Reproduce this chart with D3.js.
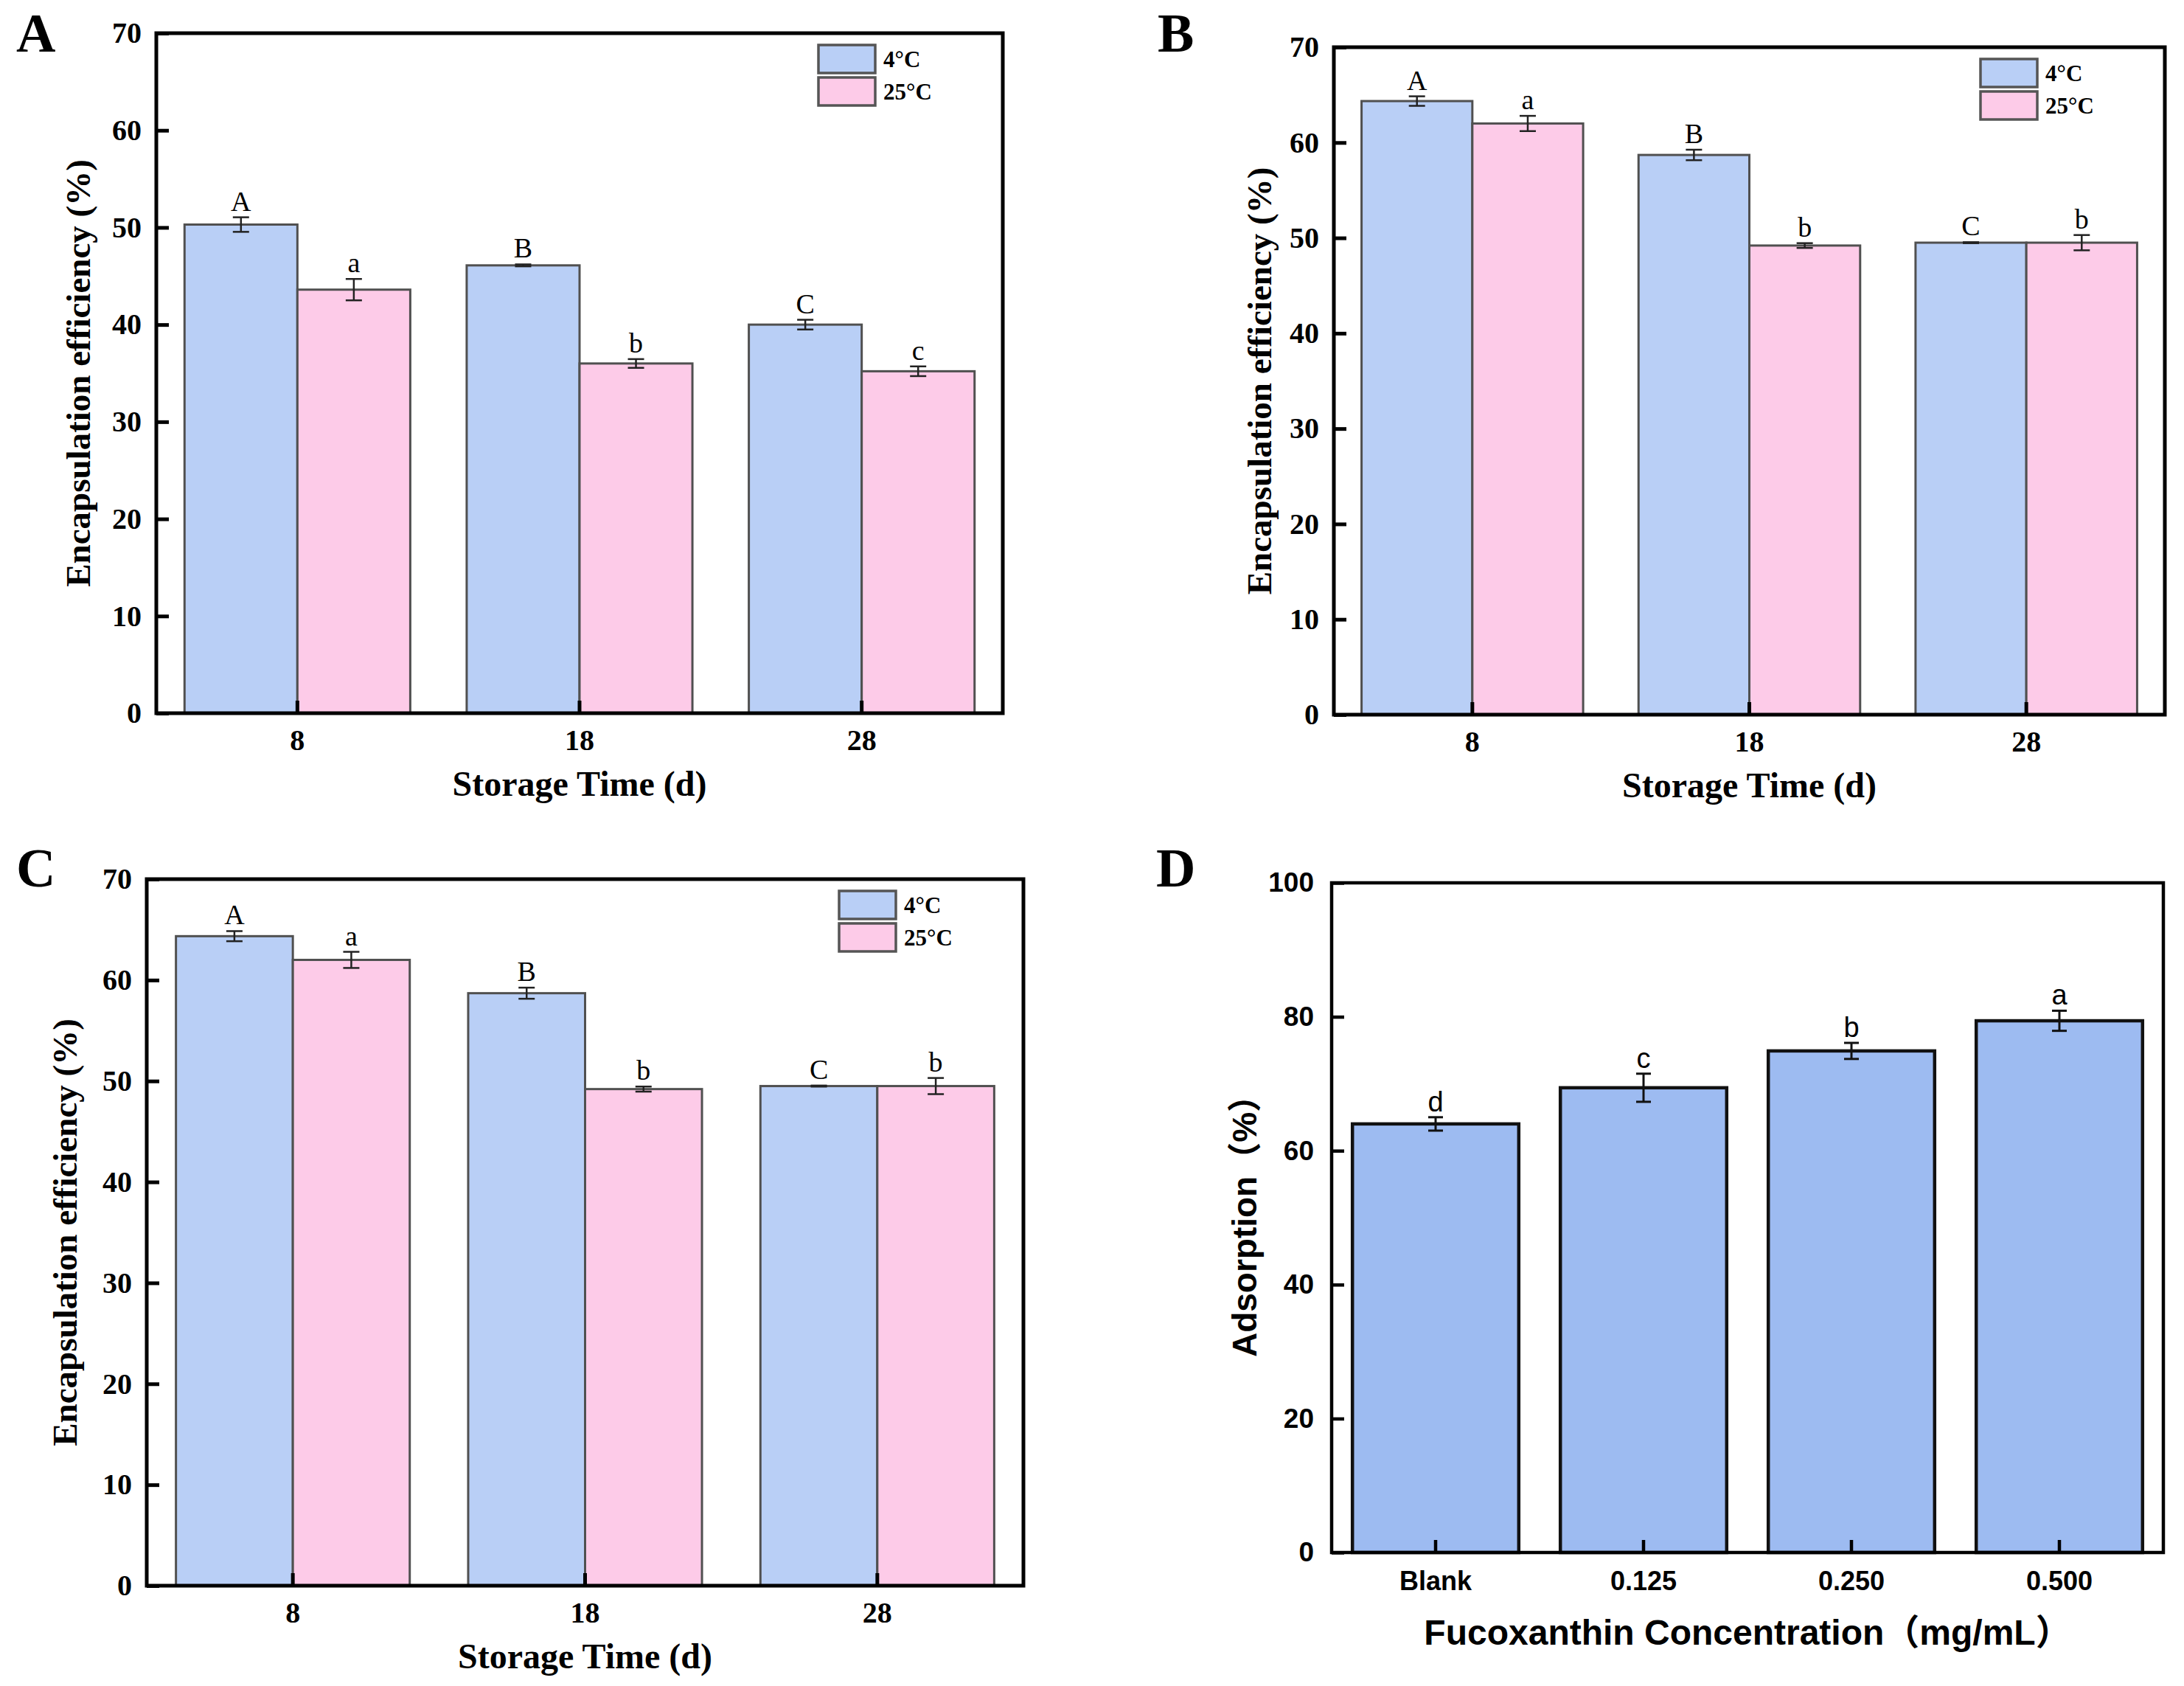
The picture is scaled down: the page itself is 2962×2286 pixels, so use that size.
<!DOCTYPE html>
<html>
<head>
<meta charset="utf-8">
<script src="https://cdn.jsdelivr.net/npm/d3@7"></script>
<style>
  body { margin: 0; background: #fff; }
  svg { display: block; }
</style>
</head>
<body>
<svg width="2962" height="2286"></svg>
<script>
// ---- data ----
const storageDays = ["8", "18", "28"];
const seriesNames = ["4°C", "25°C"];

const effA_4C = [50.3, 46.1, 40.0];
const effA_25C = [43.6, 36.0, 35.2];
const errA_4C = [0.75, 0.1, 0.5];
const errA_25C = [1.1, 0.45, 0.5];
const sigA_4C = ["A", "B", "C"];
const sigA_25C = ["a", "b", "c"];

const effB_4C = [64.35, 58.7, 49.5];
const effB_25C = [62.0, 49.2, 49.5];
const errB_4C = [0.5, 0.55, 0.05];
const errB_25C = [0.8, 0.25, 0.8];
const sigB_4C = ["A", "B", "C"];
const sigB_25C = ["a", "b", "b"];

const effC_4C = [64.35, 58.7, 49.5];
const effC_25C = [62.0, 49.2, 49.5];
const errC_4C = [0.5, 0.55, 0.05];
const errC_25C = [0.8, 0.25, 0.8];
const sigC_4C = ["A", "B", "C"];
const sigC_25C = ["a", "b", "b"];

const concLabels = ["Blank", "0.125", "0.250", "0.500"];
const adsorption = [64.0, 69.4, 74.9, 79.4];
const adsorptionErr = [1.0, 2.1, 1.2, 1.5];
const adsorptionSig = ["d", "c", "b", "a"];

const yTicksEff = [0, 10, 20, 30, 40, 50, 60, 70];
const yTicksAds = [0, 20, 40, 60, 80, 100];

const blueFill = "#b9cff6";
const pinkFill = "#fdcbe8";
const blueD = "#9dbbf1";

const serif = "'Liberation Serif', 'Times New Roman', serif";
const sans = "'Liberation Sans', Arial, 'Noto Sans CJK SC', sans-serif";

const svg = d3.select("svg");

function panelLetter(txt, x, y) {
  svg.append("text")
    .attr("x", x).attr("y", y)
    .attr("font-family", serif)
    .attr("font-weight", "bold")
    .attr("font-size", 74)
    .text(txt);
}

// grouped bar panel (A, B, C)
function groupedPanel(p) {
  const g = svg.append("g");
  const x = d3.scaleBand().domain(storageDays)
    .range([p.left, p.right]).paddingInner(0.2).paddingOuter(0.1);
  const xs = d3.scaleBand().domain(seriesNames).range([0, x.bandwidth()]);
  const y = d3.scaleLinear().domain([0, 70]).range([p.bottom, p.top]);

  const rows = [];
  storageDays.forEach((d, i) => {
    rows.push({ cat: d, s: seriesNames[0], v: p.v1[i], e: p.e1[i], sig: p.s1[i], fill: blueFill });
    rows.push({ cat: d, s: seriesNames[1], v: p.v2[i], e: p.e2[i], sig: p.s2[i], fill: pinkFill });
  });

  g.selectAll("rect.bar").data(rows).enter().append("rect")
    .attr("class", "bar")
    .attr("x", d => x(d.cat) + xs(d.s))
    .attr("y", d => y(d.v))
    .attr("width", xs.bandwidth())
    .attr("height", d => y(0) - y(d.v))
    .attr("fill", d => d.fill)
    .attr("stroke", "#505050")
    .attr("stroke-width", 3);

  // error bars
  const cx = d => x(d.cat) + xs(d.s) + xs.bandwidth() / 2;
  const eb = g.selectAll("g.err").data(rows).enter().append("g")
    .attr("stroke", "#222").attr("stroke-width", 2.5);
  eb.append("line").attr("x1", cx).attr("x2", cx)
    .attr("y1", d => y(d.v + d.e)).attr("y2", d => y(d.v - d.e));
  eb.append("line").attr("x1", d => cx(d) - 11).attr("x2", d => cx(d) + 11)
    .attr("y1", d => y(d.v + d.e)).attr("y2", d => y(d.v + d.e));
  eb.append("line").attr("x1", d => cx(d) - 11).attr("x2", d => cx(d) + 11)
    .attr("y1", d => y(d.v - d.e)).attr("y2", d => y(d.v - d.e));

  g.selectAll("text.sig").data(rows).enter().append("text")
    .attr("class", "sig")
    .attr("x", cx)
    .attr("y", d => y(d.v + d.e) - 9)
    .attr("text-anchor", "middle")
    .attr("font-family", serif)
    .attr("font-size", 38)
    .text(d => d.sig);

  // axes
  const yAxis = g.append("g")
    .attr("transform", `translate(${p.left},0)`)
    .call(d3.axisLeft(y).tickValues(yTicksEff).tickSizeInner(-17).tickSizeOuter(0).tickPadding(20));
  yAxis.select(".domain").remove();
  yAxis.selectAll("line").attr("stroke", "#000").attr("stroke-width", 5);
  yAxis.selectAll("text").attr("font-family", serif).attr("font-weight", "bold")
    .attr("font-size", 40).attr("fill", "#000");

  const xAxis = g.append("g")
    .attr("transform", `translate(0,${p.bottom})`)
    .call(d3.axisBottom(x).tickSizeInner(-17).tickSizeOuter(0).tickPadding(22));
  xAxis.select(".domain").remove();
  xAxis.selectAll("line").attr("stroke", "#000").attr("stroke-width", 5);
  xAxis.selectAll("text").attr("font-family", serif).attr("font-weight", "bold")
    .attr("font-size", 40).attr("fill", "#000");

  g.append("rect")
    .attr("x", p.left).attr("y", p.top)
    .attr("width", p.right - p.left).attr("height", p.bottom - p.top)
    .attr("fill", "none").attr("stroke", "#000").attr("stroke-width", 5);

  // legend
  const lx = p.right - 250, ly = p.top + 16;
  const leg = g.selectAll("g.leg").data([blueFill, pinkFill]).enter().append("g")
    .attr("transform", (d, i) => `translate(${lx},${ly + i * 44})`);
  leg.append("rect").attr("width", 77).attr("height", 38)
    .attr("fill", d => d).attr("stroke", "#555").attr("stroke-width", 3.5);
  leg.append("text").attr("x", 88).attr("y", 30)
    .attr("font-family", serif).attr("font-weight", "bold").attr("font-size", 31)
    .text((d, i) => seriesNames[i]);

  // titles
  g.append("text")
    .attr("transform", `translate(${p.yTitleX},${(p.top + p.bottom) / 2}) rotate(-90)`)
    .attr("text-anchor", "middle").attr("dominant-baseline", "central")
    .attr("font-family", serif).attr("font-weight", "bold").attr("font-size", 47)
    .text("Encapsulation efficiency (%)");
  g.append("text")
    .attr("x", (p.left + p.right) / 2).attr("y", p.bottom + 112)
    .attr("text-anchor", "middle")
    .attr("font-family", serif).attr("font-weight", "bold").attr("font-size", 48)
    .text("Storage Time (d)");
}

groupedPanel({ left: 212, right: 1360, top: 45, bottom: 967, yTitleX: 106,
  v1: effA_4C, v2: effA_25C, e1: errA_4C, e2: errA_25C, s1: sigA_4C, s2: sigA_25C });
groupedPanel({ left: 1809, right: 2936, top: 64, bottom: 969, yTitleX: 1708,
  v1: effB_4C, v2: effB_25C, e1: errB_4C, e2: errB_25C, s1: sigB_4C, s2: sigB_25C });
groupedPanel({ left: 199, right: 1388, top: 1192, bottom: 2150, yTitleX: 88,
  v1: effC_4C, v2: effC_25C, e1: errC_4C, e2: errC_25C, s1: sigC_4C, s2: sigC_25C });

// panel D
(function () {
  const p = { left: 1806, right: 2934, top: 1197, bottom: 2105 };
  const g = svg.append("g");
  const x = d3.scaleBand().domain(concLabels)
    .range([p.left, p.right]).paddingInner(0.2).paddingOuter(0.1);
  const y = d3.scaleLinear().domain([0, 100]).range([p.bottom, p.top]);
  const rows = concLabels.map((c, i) => ({ cat: c, v: adsorption[i], e: adsorptionErr[i], sig: adsorptionSig[i] }));

  g.selectAll("rect.bar").data(rows).enter().append("rect")
    .attr("x", d => x(d.cat)).attr("y", d => y(d.v))
    .attr("width", x.bandwidth()).attr("height", d => y(0) - y(d.v))
    .attr("fill", blueD).attr("stroke", "#111").attr("stroke-width", 4.5);

  const cx = d => x(d.cat) + x.bandwidth() / 2;
  const eb = g.selectAll("g.err").data(rows).enter().append("g")
    .attr("stroke", "#111").attr("stroke-width", 3);
  eb.append("line").attr("x1", cx).attr("x2", cx)
    .attr("y1", d => y(d.v + d.e)).attr("y2", d => y(d.v - d.e));
  eb.append("line").attr("x1", d => cx(d) - 10).attr("x2", d => cx(d) + 10)
    .attr("y1", d => y(d.v + d.e)).attr("y2", d => y(d.v + d.e));
  eb.append("line").attr("x1", d => cx(d) - 10).attr("x2", d => cx(d) + 10)
    .attr("y1", d => y(d.v - d.e)).attr("y2", d => y(d.v - d.e));

  g.selectAll("text.sig").data(rows).enter().append("text")
    .attr("x", cx).attr("y", d => y(d.v + d.e) - 8)
    .attr("text-anchor", "middle")
    .attr("font-family", sans).attr("font-size", 38)
    .text(d => d.sig);

  const yAxis = g.append("g")
    .attr("transform", `translate(${p.left},0)`)
    .call(d3.axisLeft(y).tickValues(yTicksAds).tickSizeInner(-17).tickSizeOuter(0).tickPadding(24));
  yAxis.select(".domain").remove();
  yAxis.selectAll("line").attr("stroke", "#000").attr("stroke-width", 4.5);
  yAxis.selectAll("text").attr("font-family", sans).attr("font-weight", "bold")
    .attr("font-size", 37).attr("fill", "#000");

  const xAxis = g.append("g")
    .attr("transform", `translate(0,${p.bottom})`)
    .call(d3.axisBottom(x).tickSizeInner(-17).tickSizeOuter(0).tickPadding(25));
  xAxis.select(".domain").remove();
  xAxis.selectAll("line").attr("stroke", "#000").attr("stroke-width", 4.5);
  xAxis.selectAll("text").attr("font-family", sans).attr("font-weight", "bold")
    .attr("font-size", 36).attr("fill", "#000");

  g.append("rect")
    .attr("x", p.left).attr("y", p.top)
    .attr("width", p.right - p.left).attr("height", p.bottom - p.top)
    .attr("fill", "none").attr("stroke", "#000").attr("stroke-width", 4.5);

  g.append("text")
    .attr("transform", `translate(1688,${(p.top + p.bottom) / 2}) rotate(-90)`)
    .attr("text-anchor", "middle").attr("dominant-baseline", "central")
    .attr("font-family", sans).attr("font-weight", "bold").attr("font-size", 46)
    .text("Adsorption（%）");
  g.append("text")
    .attr("x", (p.left + p.right) / 2).attr("y", 2230)
    .attr("text-anchor", "middle")
    .attr("font-family", sans).attr("font-weight", "bold").attr("font-size", 48)
    .text("Fucoxanthin Concentration（mg/mL）");
})();

panelLetter("A", 22, 70);
panelLetter("B", 1570, 70);
panelLetter("C", 22, 1202);
panelLetter("D", 1568, 1202);
</script>
</body>
</html>
